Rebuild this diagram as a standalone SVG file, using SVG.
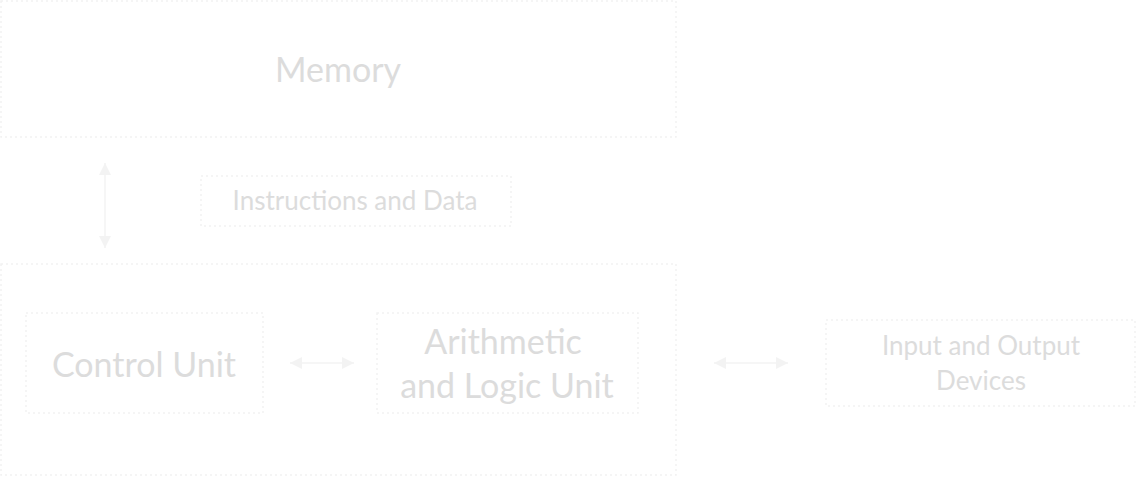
<svg xmlns="http://www.w3.org/2000/svg" width="1136" height="477" viewBox="0 0 1136 477">
<style>
.box{fill:none;stroke:#f2f2f2;stroke-width:1.5;stroke-dasharray:2 3}
.t{font-family:Lato,"Open Sans",sans-serif;fill:#dcdcdc;text-anchor:middle}
.c{stroke:#f3f3f3;stroke-width:1.5;fill:none;marker-start:url(#a);marker-end:url(#a)}
</style>
<defs>
<marker id="a" viewBox="0 0 10 10" refX="10" refY="5" markerWidth="8" markerHeight="9" markerUnits="strokeWidth" orient="auto-start-reverse">
<path d="M0,0 L10,5 L0,10 Z" fill="#f3f3f3"/>
</marker>
</defs>
<rect width="1136" height="477" fill="#ffffff"/>
<g id="memory">
<rect class="box" x="1" y="1" width="675" height="136"/>
<text class="t" x="338" y="82" font-size="34">Memory</text>
</g>
<g id="cpu">
<rect class="box" x="1" y="264" width="675" height="211"/>
</g>
<g id="instructions-data">
<rect class="box" x="201" y="176" width="310" height="50"/>
<text class="t" x="355" y="210" font-size="26">Instructions and Data</text>
</g>
<g id="control-unit">
<rect class="box" x="26" y="313" width="237" height="100"/>
<text class="t" x="144" y="377" font-size="34">Control Unit</text>
</g>
<g id="alu">
<rect class="box" x="377" y="313" width="261" height="100"/>
<text class="t" x="503" y="354" font-size="34">Arithmetic</text>
<text class="t" x="507" y="398" font-size="34">and Logic Unit</text>
</g>
<g id="io">
<rect class="box" x="826" y="320" width="309" height="86"/>
<text class="t" x="981" y="355" font-size="26">Input and Output</text>
<text class="t" x="981" y="390" font-size="26">Devices</text>
</g>
<g id="connectors">
<line class="c" x1="105" y1="163" x2="105" y2="248"/>
<line class="c" x1="290" y1="363" x2="354" y2="363"/>
<line class="c" x1="714" y1="363" x2="788" y2="363"/>
</g>
</svg>
